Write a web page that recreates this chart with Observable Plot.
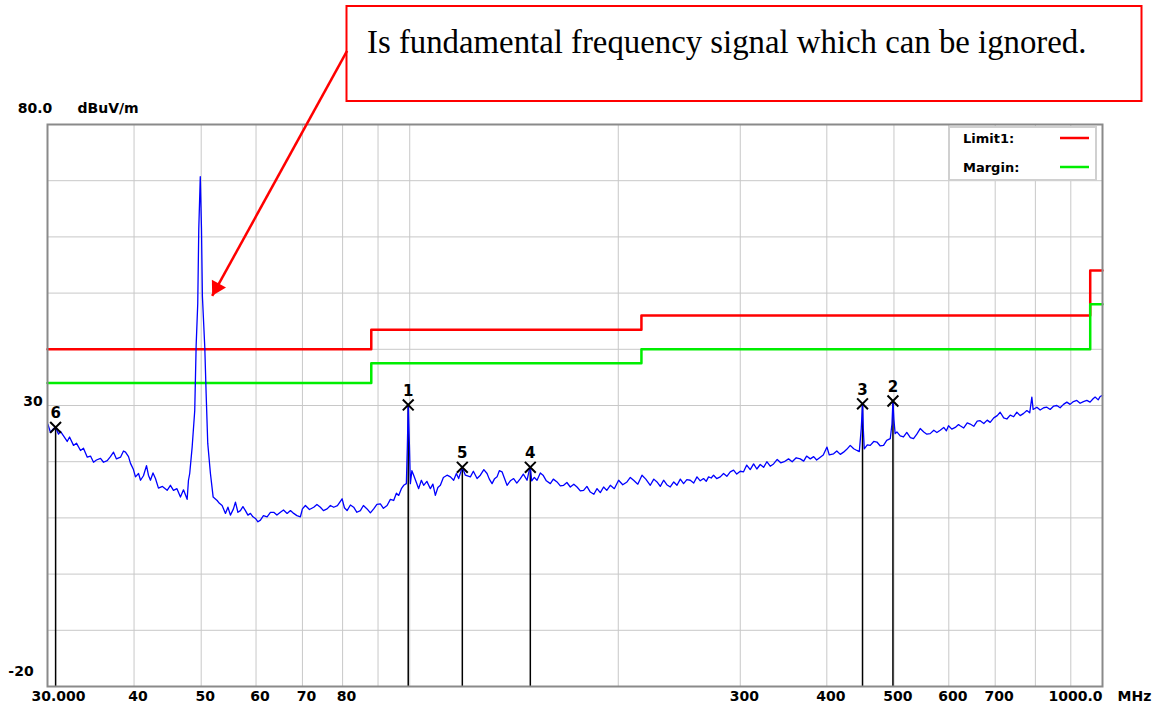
<!DOCTYPE html>
<html>
<head>
<meta charset="utf-8">
<script src="https://cdn.jsdelivr.net/npm/d3@7"></script>
<script src="https://cdn.jsdelivr.net/npm/@observablehq/plot@0.6"></script>
<style>
html,body{margin:0;padding:0;background:#fff;}
#wrap{position:relative;width:1158px;height:709px;overflow:hidden;background:#fff;}
#chart svg{display:block;}
.overlay{position:absolute;left:0;top:0;pointer-events:none;}
</style>
</head>
<body>
<div id="wrap"><div id="chart"></div></div>
<script>
// ---- data ----
// spectrum trace: [frequency MHz, level dBuV/m]
const spectrumReadings = [
[30.03,26.7],[30.3,25.2],[30.6,25.9],[30.82,26.1],[31.12,24.9],[31.32,25.4],[31.64,24.6],[32.03,23.6],[32.28,24.4],[32.71,22.9],
[33.03,23.3],[33.48,22.0],[33.81,22.4],[34.24,20.8],[34.61,21.0],[34.96,19.9],[35.3,20.3],[35.78,20.6],[36.14,19.9],[36.59,20.2],
[36.98,20.9],[37.36,21.7],[37.73,20.5],[38.24,20.8],[38.62,21.9],[38.88,21.7],[39.27,20.9],[39.53,19.7],[39.92,18.6],[40.19,17.3],
[40.6,17.9],[40.87,16.7],[41.27,17.5],[41.69,19.3],[41.96,17.6],[42.24,16.7],[42.6,18.0],[42.95,17.0],[43.38,15.3],[43.96,15.6],
[44.65,14.9],[45.14,15.8],[45.6,14.9],[46.13,15.2],[46.67,13.7],[47.14,15.0],[47.72,13.3],
[47.93,16.7],[48.13,17.9],[48.52,22.6],[48.94,29.1],[49.17,40.7],[49.43,48.1],[49.6,61.4],[49.85,70.7],[50.05,61.4],[50.2,49.5],
[50.6,40.4],[50.83,32.1],[51.1,23.3],[51.56,17.9],[52.03,13.7],[52.72,13.1],
[53.12,12.6],[53.6,12.2],[54.2,10.8],[54.65,11.9],[55.1,10.5],[55.66,11.6],[56.03,12.8],[56.49,11.0],[56.96,11.3],[57.44,12.0],
[57.92,11.3],[58.4,10.5],[58.89,10.8],[59.38,10.2],[59.88,9.9],[60.38,9.3],[60.88,9.6],[61.49,10.4],[62.25,10.2],[62.94,11.0],
[63.63,11.0],[64.31,10.5],[65.06,11.0],[65.73,11.4],[66.53,10.8],[67.27,11.3],[68.0,10.8],[68.73,10.4],[69.53,10.2],[70.0,11.6],
[70.7,12.2],[71.65,11.5],[72.68,11.9],[73.46,12.4],[74.31,11.9],[75.06,11.3],[75.98,11.6],[76.83,12.2],[77.67,11.9],[78.64,12.2],
[79.87,13.4],[80.49,11.8],[81.2,11.3],[82.11,12.3],[83.0,11.9],[83.9,11.0],[84.87,11.3],[85.73,12.2],[86.78,11.6],[87.74,10.9],
[88.71,11.6],[89.66,12.4],[90.7,12.5],[91.62,11.7],[92.75,12.2],[93.77,13.3],[94.8,13.1],[95.66,14.4],[96.39,14.0],[97.26,15.2],
[98.01,15.8],[98.89,16.1],[99.22,22.9],[99.5,30.1],[99.9,22.9],[100.21,16.1],[100.72,18.4],[101.32,17.6],[102.23,16.3],[103.01,15.2],
[103.94,16.7],[104.74,15.8],[105.86,16.5],[107.1,15.2],[108.0,16.0],[108.89,14.0],[109.8,15.4],[110.72,15.8],[111.83,17.2],[113.21,17.6],
[114.47,17.3],[115.72,16.7],[116.77,17.9],[117.66,17.0],[118.72,18.5],[119.1,19.0],[120.3,17.6],[122.33,17.3],[123.55,18.3],[125.08,17.0],
[126.46,17.6],[127.92,18.6],[129.3,17.9],[130.28,16.9],[131.47,16.1],[132.47,16.9],[133.67,17.3],[134.69,18.4],[135.91,18.2],[136.95,17.1],
[138.19,15.8],[139.71,16.6],[141.25,17.0],[142.76,16.2],[144.43,17.0],[145.88,17.8],[147.68,16.7],[148.6,18.2],[149.3,19.0],[150.0,16.6],
[151.3,17.2],[152.67,16.7],[154.35,18.0],[155.75,17.6],[157.46,16.6],[159.57,16.1],[161.17,16.9],[163.16,16.4],[164.96,15.7],[166.78,15.8],
[168.6,16.3],[170.53,15.5],[172.52,16.0],[174.37,15.5],[176.3,14.8],[178.24,14.9],[180.2,15.6],[182.25,14.6],[184.4,14.2],[186.35,15.2],
[188.41,14.5],[190.48,15.5],[192.5,14.9],[194.77,15.8],[197.38,15.2],[200.22,16.7],[203.0,15.9],[205.88,16.4],[208.16,17.2],[210.45,16.7],
[213.4,16.0],[216.4,17.6],[219.16,16.9],[222.45,15.8],[225.06,16.9],[227.46,16.4],[229.97,15.6],[232.51,16.7],[235.0,15.9],[237.74,15.5],
[240.5,16.4],[243.09,15.8],[245.8,16.9],[248.48,16.1],[251.2,16.8],[254.07,16.7],[257.0,16.2],[259.79,17.3],[262.65,16.6],[265.55,17.0],
[267.9,16.5],[270.0,17.3],[272.4,17.1],[274.52,17.6],[277.4,17.0],[280.7,17.3],[283.79,17.9],[286.9,17.4],[290.2,18.2],[293.4,18.5],
[296.5,17.8],[300.0,18.3],[303.3,18.2],[306.5,19.4],[310.1,18.6],[313.6,19.6],[317.0,18.7],[320.6,19.5],[324.2,19.0],[327.7,20.0],
[331.4,19.2],[335.1,19.6],[339.2,20.4],[343.2,19.8],[347.2,20.0],[352.2,20.5],[356.5,20.0],[361.3,20.7],[366.2,20.5],[370.4,20.1],
[374.0,21.0],[378.6,20.5],[382.9,20.9],[386.7,20.3],[391.4,20.8],[395.3,21.2],[400.2,22.6],[403.3,21.2],[409.1,21.4],[413.5,21.9],
[418.3,21.3],[422.9,21.7],[427.4,22.2],[432.4,22.9],[437.4,22.3],[442.1,22.0],[445.6,21.8],[448.5,25.9],[450.4,30.3],[451.5,26.0],
[453.0,22.3],[457.6,23.0],[462.1,22.9],[467.5,23.6],[472.5,23.5],[477.8,22.8],[483.0,22.9],[488.1,23.8],[493.9,24.1],[496.7,26.7],
[498.3,30.8],[499.9,27.5],[502.0,25.0],[504.9,25.3],[510.5,24.6],[516.1,24.4],[521.8,25.2],[528.0,24.3],[533.6,24.1],[539.5,24.9],
[545.6,25.9],[552.1,25.3],[557.8,24.9],[564.0,25.0],[570.8,25.6],[576.7,25.2],[583.1,25.6],[590.0,26.1],[595.2,25.5],[599.4,26.4],
[606.0,25.8],[613.0,26.1],[619.7,26.6],[623.1,26.4],[630.5,26.0],[637.9,26.9],[644.2,26.7],[651.9,26.3],[659.4,27.2],[665.9,27.3],
[674.0,26.8],[681.7,27.4],[688.4,27.0],[696.7,27.8],[704.8,28.2],[711.7,28.8],[720.1,27.8],[727.7,27.6],[735.9,28.3],[744.4,28.0],
[752.3,28.8],[760.7,28.2],[769.5,28.6],[777.7,29.1],[785.1,28.7],[790.7,31.5],[794.1,29.3],[804.0,29.7],[812.9,29.2],[822.5,29.6],
[831.2,29.7],[840.3,29.3],[850.3,29.9],[859.2,30.0],[868.6,29.6],[878.5,30.2],[888.2,30.6],[897.9,30.2],[908.0,30.7],[918.2,30.9],
[928.3,30.4],[938.6,30.7],[949.3,30.9],[959.5,30.6],[969.2,31.2],[975.8,31.5],[985.8,31.0],[992.2,31.6],[1000,31.8]
];

// limit lines (step after each frequency)
const limitFreq   = [30, 88, 216, 960, 1000];
const limit1Level = [40, 43.5, 46, 54, 54];
const marginLevel = [34, 37.5, 40, 48, 48];

// markers
const markerNo    = ["1", "2", "3", "4", "5", "6"];
const markerFreq  = [99.5, 498.3, 450.4, 149.3, 119.1, 30.82];
const markerLevel = [30.1, 30.8, 30.3, 19.0, 19.0, 26.1];

// axes
const xGridValues  = [40, 50, 60, 70, 80, 90, 100, 200, 300, 400, 500, 600, 700, 800, 900];
const xTickValues  = [40, 50, 60, 70, 80, 300, 400, 500, 600, 700];
const yGridValues  = [-10, 0, 10, 20, 30, 40, 50, 60, 70];
const xEndLabels   = ["30.000", "1000.0"];
const yLabels      = ["80.0", "30", "-20"];
const yLabelValues = [80, 30, -20];
const yUnit = "dBuV/m";
const xUnit = "MHz";

// legend
const legendNames  = ["Limit1:", "Margin:"];
const legendColors = ["#ff0000", "#00ee00"];

// annotation: arrow from the note box to the 50 MHz fundamental
const noteText = "Is fundamental frequency signal which can be ignored.";
const arrowFrom = {f: 81.2, v: 93.1};
const arrowTo   = {f: 51.86, v: 49.5};

// ---- build tables ----
const trace = spectrumReadings.map(([f, v]) => ({f, v}));
const limit1 = limitFreq.map((f, i) => ({f, v: limit1Level[i]}));
const margin = limitFreq.map((f, i) => ({f, v: marginLevel[i]}));
const markers = markerNo.map((n, i) => ({n, f: markerFreq[i], v: markerLevel[i]}));
const yLab = yLabels.map((t, i) => ({t, v: yLabelValues[i]}));

const labelFont = {fontFamily: "DejaVu Sans", fontWeight: "bold", fontSize: 14, fill: "#000"};

const chart = Plot.plot({
  width: 1158,
  height: 709,
  marginLeft: 47,
  marginRight: 56,
  marginTop: 124,
  marginBottom: 23,
  style: {background: "#fff", fontFamily: "DejaVu Sans", overflow: "visible"},
  x: {type: "log", domain: [30, 1000], axis: null},
  y: {domain: [-20, 80], axis: null},
  marks: [
    Plot.gridX(xGridValues, {stroke: "#c8c8c8", strokeOpacity: 1, strokeWidth: 1}),
    Plot.gridY(yGridValues, {stroke: "#c8c8c8", strokeOpacity: 1, strokeWidth: 1}),
    Plot.line(limit1, {x: "f", y: "v", curve: "step-after", stroke: legendColors[0], strokeWidth: 2.5}),
    Plot.line(margin, {x: "f", y: "v", curve: "step-after", stroke: legendColors[1], strokeWidth: 2.5}),
    Plot.ruleX(markers, {x: "f", y1: "v", y2: -20, stroke: "#000", strokeWidth: 1.5}),
    Plot.line(trace, {x: "f", y: "v", stroke: "#0000ff", strokeWidth: 1.3}),
    Plot.dot(markers, {x: "f", y: "v", symbol: "times", r: 5, stroke: "#000", strokeWidth: 2}),
    Plot.text(markers, {x: "f", y: "v", text: "n", dy: -14, ...labelFont, fontSize: 15}),
    Plot.frame({stroke: "#8a8a8a", strokeWidth: 2}),
    // x tick labels
    Plot.text(xTickValues, {x: d => d, frameAnchor: "bottom", dy: 14, dx: 4, text: d => String(d), ...labelFont}),
    Plot.text([xEndLabels[0]], {x: limitFreq[0], frameAnchor: "bottom", dy: 14, dx: 11, text: d => d, ...labelFont}),
    Plot.text([xEndLabels[1]], {x: limitFreq[limitFreq.length - 1], frameAnchor: "bottom", dy: 14, dx: -27, text: d => d, ...labelFont}),
    Plot.text([xUnit], {x: limitFreq[limitFreq.length - 1], frameAnchor: "bottom", dy: 14, dx: 32, text: d => d, ...labelFont}),
    // y labels
    Plot.text(yLab.filter(d => d.v === 80), {x: limitFreq[0], y: "v", text: "t", dx: -12.5, dy: -16, ...labelFont}),
    Plot.text(yLab.filter(d => d.v === 30), {x: limitFreq[0], y: "v", text: "t", dx: -14.5, dy: -4, ...labelFont}),
    Plot.text(yLab.filter(d => d.v === -20), {x: limitFreq[0], y: "v", text: "t", dx: -26.5, dy: -15, ...labelFont}),
    Plot.text([yUnit], {x: limitFreq[0], y: 80, text: d => d, dx: 30, dy: -16, textAnchor: "start", ...labelFont}),
    // annotation arrow
    Plot.link([{a: arrowFrom, b: arrowTo}], {x1: d => d.a.f, y1: d => d.a.v, x2: d => d.b.f, y2: d => d.b.v, stroke: "#ff0000", strokeWidth: 2.5}),
    Plot.dot([arrowTo], {x: "f", y: "v", symbol: "triangle", r: 6, fill: "#ff0000", stroke: "none", rotate: 209, dx: 4.5, dy: -8.2})
  ]
});
document.getElementById("chart").appendChild(chart);

// note box above the plot
const wrap = d3.select("#wrap");
const note = wrap.append("svg").attr("class", "overlay").attr("width", 1158).attr("height", 110);
note.append("rect").attr("x", 346.5).attr("y", 6).attr("width", 795).attr("height", 95)
  .attr("fill", "none").attr("stroke", "#ff0000").attr("stroke-width", 2);
note.append("text").attr("x", 367).attr("y", 53)
  .attr("font-family", "Liberation Serif, Times New Roman, serif").attr("font-size", 32.8)
  .attr("fill", "#000").text(noteText);

// legend box inside the plot, top right
const leg = wrap.append("svg").attr("class", "overlay")
  .style("left", "948px").style("top", "126px").attr("width", 150).attr("height", 56);
leg.append("rect").attr("x", 1).attr("y", 1).attr("width", 147).attr("height", 53)
  .attr("fill", "#fff").attr("stroke", "#d0d0d0").attr("stroke-width", 2);
legendNames.forEach((name, i) => {
  const cy = 12 + i * 29;
  leg.append("text").attr("x", 15).attr("y", cy + 4.7)
    .attr("font-family", "DejaVu Sans").attr("font-weight", "bold").attr("font-size", 13)
    .attr("fill", "#000").text(name);
  leg.append("line").attr("x1", 112).attr("x2", 141).attr("y1", cy).attr("y2", cy)
    .attr("stroke", legendColors[i]).attr("stroke-width", 2.5);
});
</script>
</body>
</html>
